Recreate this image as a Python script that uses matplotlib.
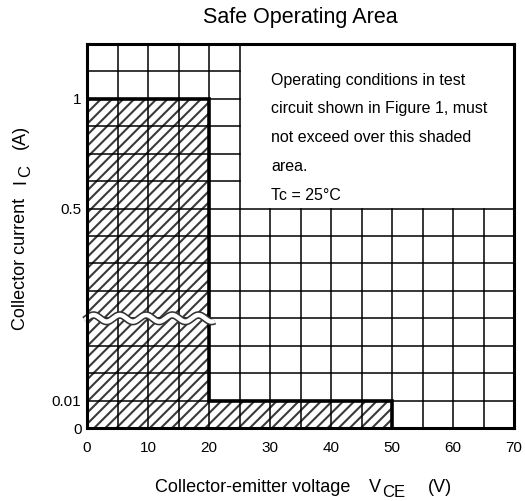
import numpy as np
import matplotlib.pyplot as plt
from matplotlib.patches import Polygon

plt.rcParams['font.family'] = ['Liberation Sans', 'DejaVu Sans']
plt.rcParams['hatch.linewidth'] = 1.5

# Data
# -------------------------------------------------------------
soa_vce = [0, 0, 20, 20, 50, 50]          # V
soa_ic = [0, 1, 1, 0.01, 0.01, 0]         # A

ic_ticks = [0, 0.01, 0.5, 1]
ic_labels = ['0', '0.01', '0.5', '1']
vce_ticks = [0, 10, 20, 30, 40, 50, 60, 70]

note_lines = ['Operating conditions in test',
              'circuit shown in Figure 1, must',
              'not exceed over this shaded',
              'area.',
              'Tc = 25°C']
# -------------------------------------------------------------

# broken y scale: 0..0.01 -> 1 row, 0.01..0.5 -> 7 rows (break), 0.5..1 -> 4 rows
scale_ic = [0, 0.01, 0.5, 1]
scale_row = [0, 1, 8, 12]


def to_row(v):
    return np.interp(v, scale_ic, scale_row)


W, H = 525, 501


def fx(px):
    return px / W


def fy(py):
    return 1 - py / H


fig = plt.figure(figsize=(5.25, 5.01), dpi=100)
ax = fig.add_axes([fx(87), fy(428), 427 / W, 384 / H])
ax.set_xlim(0, 70)
ax.set_ylim(0, 14)

# shaded SOA
pts = np.column_stack([soa_vce, to_row(soa_ic)])
ax.add_patch(Polygon(pts, closed=True, facecolor='white', edgecolor='#3a3a3a',
                     hatch='///', lw=0, zorder=1))

# grid (blank box top right)
glw = 1.1
for x in range(5, 70, 5):
    top = 14 if x <= 25 else 8
    ax.plot([x, x], [0, top], color='black', lw=glw, zorder=2)
for y in range(1, 14):
    right = 70 if y <= 8 else 25
    ax.plot([0, right], [y, y], color='black', lw=glw, zorder=2)

# SOA outline
ax.plot(soa_vce[1:5] + [50], list(to_row(soa_ic))[1:5] + [0], color='black',
        lw=2.6, zorder=3, solid_joinstyle='miter')

# axis break (wavy)
xw = np.linspace(-0.4, 20.9, 300)
yw = 4 + 0.12 * np.sin(2 * np.pi * xw / 4.3)
ax.plot(xw, yw, color='#333333', lw=5.5, zorder=4, clip_on=False, solid_capstyle='butt')
ax.plot(xw, yw, color='white', lw=3.2, zorder=5, clip_on=False, solid_capstyle='butt')

for s in ax.spines.values():
    s.set_linewidth(2.2)
    s.set_zorder(6)

ax.set_xticks(vce_ticks)
ax.set_xticklabels([str(v) for v in vce_ticks], fontsize=11)
ax.set_yticks(to_row(ic_ticks))
ax.set_yticklabels(ic_labels, fontsize=11)
ax.tick_params(axis='x', length=0, pad=9)
ax.tick_params(axis='y', length=0, pad=4)

# note text
for i, t in enumerate(note_lines):
    fig.text(fx(271), fy(80 + i * 29), t, fontsize=11.5, ha='left', va='center')

fig.text(fx(300), fy(18), 'Safe Operating Area', fontsize=15.5,
         ha='center', va='center')

# x label with subscript
fs = 13
fig.text(fx(155), fy(492), 'Collector-emitter voltage', fontsize=fs,
         ha='left', va='baseline')
fig.text(fx(369), fy(492), 'V', fontsize=fs, ha='left', va='baseline')
fig.text(fx(382), fy(497), 'CE', fontsize=12, ha='left', va='baseline')
fig.text(fx(428), fy(492), '(V)', fontsize=fs, ha='left', va='baseline')

# y label with subscript (rotated)
kw = dict(ha='left', va='baseline', rotation=90, rotation_mode='anchor')
fig.text(fx(25), fy(330), 'Collector current', fontsize=fs, **kw)
fig.text(fx(25), fy(184), 'I', fontsize=fs, **kw)
fig.text(fx(30), fy(177), 'C', fontsize=12, **kw)
fig.text(fx(25), fy(149), '(A)', fontsize=fs, **kw)

plt.savefig('out.png', dpi=100)
